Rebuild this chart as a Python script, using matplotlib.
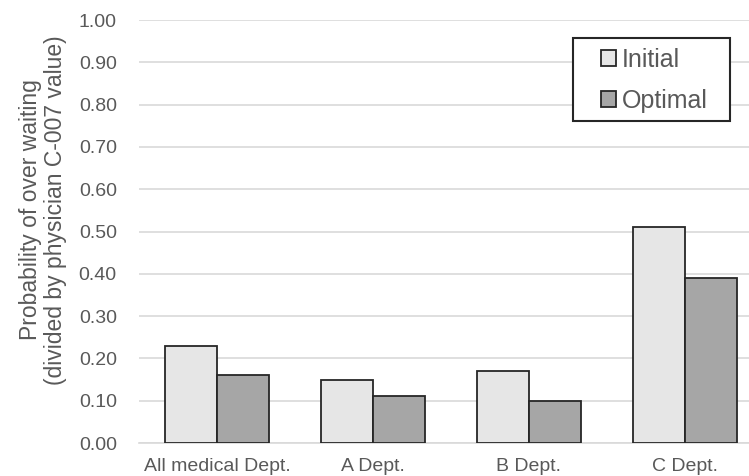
import numpy as np
import matplotlib
matplotlib.use("Agg")
import matplotlib.pyplot as plt
from matplotlib.patches import Rectangle

departments = ["All medical Dept.", "A Dept.", "B Dept.", "C Dept."]
initial = [0.23, 0.15, 0.17, 0.51]
optimal = [0.16, 0.11, 0.10, 0.39]
y_ticks = [0.0, 0.1, 0.2, 0.3, 0.4, 0.5, 0.6, 0.7, 0.8, 0.9, 1.0]

W, H = 749, 476


def main():
    plt.rcParams['font.family'] = ['Liberation Sans', 'DejaVu Sans']
    fig = plt.figure(figsize=(W / 100, H / 100), dpi=100)
    ax = fig.add_axes([139 / W, 33 / H, (W - 139) / W, 423 / H])

    x = np.arange(len(departments))
    w = 1 / 3
    ax.bar(x - w / 2, initial, w, color="#e6e6e6", edgecolor="#262626", linewidth=1.3,
           label="Initial", zorder=3)
    ax.bar(x + w / 2, optimal, w, color="#a6a6a6", edgecolor="#262626", linewidth=1.3,
           label="Optimal", zorder=3)

    ax.set_xlim(-0.5, -0.5 + (W - 139) / 156)
    ax.set_ylim(0, 1.0)
    ax.set_yticks(y_ticks)
    ax.set_yticklabels([f"{v:.2f}" for v in y_ticks])
    ax.set_xticks(x)
    ax.set_xticklabels(departments)
    ax.tick_params(axis="both", length=0, labelsize=14, colors="#595959")
    ax.tick_params(axis="y", pad=16)
    ax.tick_params(axis="x", pad=11)
    ax.grid(axis="y", color="#d9d9d9", linewidth=1.2, zorder=0)
    for s in ["top", "right", "left"]:
        ax.spines[s].set_visible(False)
    ax.spines["bottom"].set_color("#d9d9d9")
    ax.spines["bottom"].set_linewidth(1.2)

    ax.set_ylabel("Probability of over waiting\n(divided by physician C-007 value)",
                  fontsize=16.5, color="#595959", linespacing=1.1)
    ax.yaxis.set_label_coords((67 - 139) / (W - 139), (443 - 210) / 423)

    # legend: entries without frame, frame drawn as a separate box
    leg = ax.legend(loc="upper left", bbox_to_anchor=(601 / W, (H - 48) / H),
                    bbox_transform=fig.transFigure, fontsize=18, frameon=False,
                    handlelength=0.6, handleheight=0.6, handletextpad=0.25,
                    borderpad=0, borderaxespad=0, labelspacing=0.68,
                    labelcolor="#595959")
    for h in leg.legend_handles:
        h.set_linewidth(1.3)
    ax.add_patch(Rectangle((573 / W, (H - 121) / H), 157 / W, 83 / H,
                           transform=fig.transFigure, facecolor="white",
                           edgecolor="#262626", linewidth=1.5, zorder=4, clip_on=False))
    leg.set_zorder(5)

    plt.savefig("out.png", dpi=100)


if __name__ == '__main__':
    main()
